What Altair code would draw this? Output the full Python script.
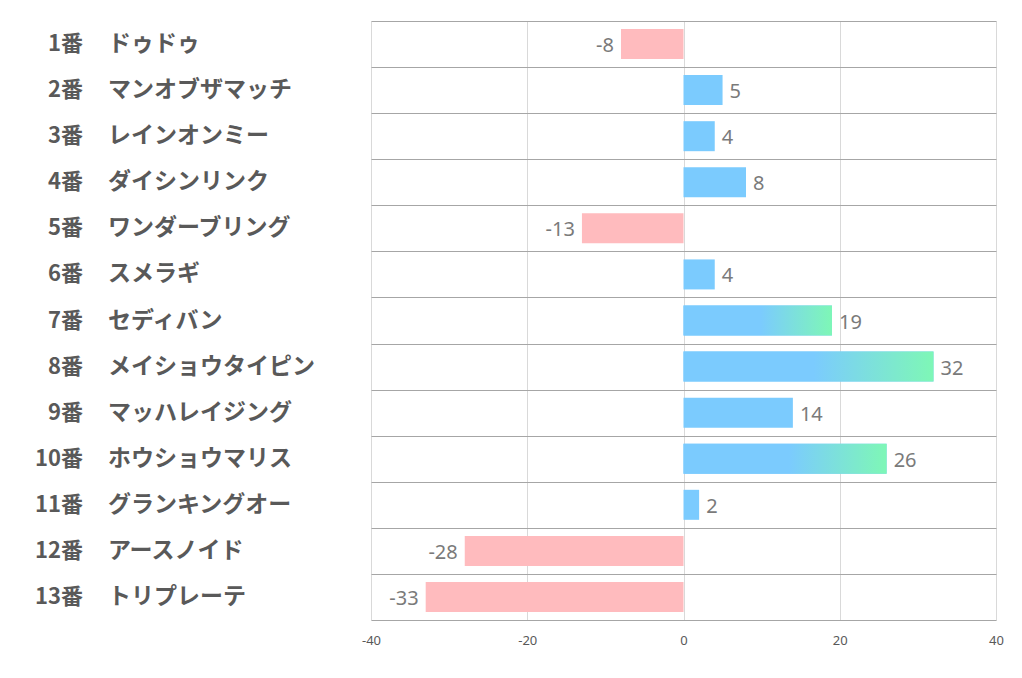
import altair as alt
import pandas as pd

nums = ["1番", "2番", "3番", "4番", "5番", "6番", "7番", "8番", "9番", "10番", "11番", "12番", "13番"]
names = ["ドゥドゥ", "マンオブザマッチ", "レインオンミー", "ダイシンリンク", "ワンダーブリング", "スメラギ",
         "セディバン", "メイショウタイピン", "マッハレイジング", "ホウショウマリス", "グランキングオー",
         "アースノイド", "トリプレーテ"]
values = [-8, 5, 4, 8, -13, 4, 19, 32, 14, 26, 2, -28, -33]
x_ticks = [-40, -20, 0, 20, 40]

df = pd.DataFrame({"num": nums, "name": names, "value": values})
df["row"] = df["num"]
df["vlabel"] = [str(v) for v in values]

BLUE = "#7BCBFE"
GREEN = "#7EF7B6"
PINK = "#FFBBBE"
LABEL = "#595959"
VAL = "#7A7A7A"

y_enc = alt.Y("row:N", sort=nums, title=None,
              scale=alt.Scale(paddingInner=0, paddingOuter=0),
              axis=alt.Axis(labels=False, ticks=False, domain=False, grid=True,
                            tickBand="extent", gridColor="#A6A6A6", gridWidth=1))
x_enc = alt.X("value:Q", title=None,
              scale=alt.Scale(domain=[-40, 40], nice=False, zero=True),
              axis=alt.Axis(values=x_ticks, ticks=False, domain=False, grid=True,
                            gridColor="#D9D9D9", labelColor=LABEL, labelFontSize=13,
                            labelPadding=14, labelFont="Noto Sans", labelFlush=False,
                            labelExpr="toString(datum.value)"))

base = alt.Chart(df)

bars = base.mark_bar(size=30).encode(
    y=y_enc, x=x_enc,
    color=alt.condition(alt.datum.value > 0, alt.value(BLUE), alt.value(PINK)),
)

grad = alt.LinearGradient(
    gradient="linear", x1=0, x2=1, y1=0, y2=0,
    stops=[alt.GradientStop(offset=0, color=BLUE),
           alt.GradientStop(offset=0.52, color=BLUE),
           alt.GradientStop(offset=1, color=GREEN)],
)
grad_bars = base.transform_filter(alt.datum.value >= 15).mark_bar(size=30, color=grad).encode(
    y=alt.Y("row:N", sort=nums), x=alt.X("value:Q"))

pos_text = base.transform_filter(alt.datum.value > 0).mark_text(
    align="left", baseline="middle", dx=7, dy=2, fontSize=20, color=VAL, font="Noto Sans"
).encode(y=alt.Y("row:N", sort=nums), x=alt.X("value:Q"), text="vlabel:N")

neg_text = base.transform_filter(alt.datum.value < 0).mark_text(
    align="right", baseline="middle", dx=-7, dy=2, fontSize=20, color=VAL, font="Noto Sans"
).encode(y=alt.Y("row:N", sort=nums), x=alt.X("value:Q"), text="vlabel:N")

num_text = base.mark_text(
    align="right", baseline="middle", fontSize=22, fontWeight="bold", color=LABEL,
    font="Noto Sans CJK JP"
).encode(y=alt.Y("row:N", sort=nums), x=alt.value(-288), text="num:N")

name_text = base.mark_text(
    align="left", baseline="middle", fontSize=23, fontWeight="bold", color=LABEL,
    font="Noto Sans CJK JP"
).encode(y=alt.Y("row:N", sort=nums), x=alt.value(-263), text="name:N")

chart = alt.layer(bars, grad_bars, pos_text, neg_text, num_text, name_text).properties(
    width=625, height=599,
    autosize=alt.AutoSizeParams(type="none"),
    padding={"left": 363, "top": 13, "right": 18, "bottom": 50},
    background="white",
).configure_view(strokeWidth=0)

chart.save("out.html", embed_options={"renderer": "svg", "actions": False})
